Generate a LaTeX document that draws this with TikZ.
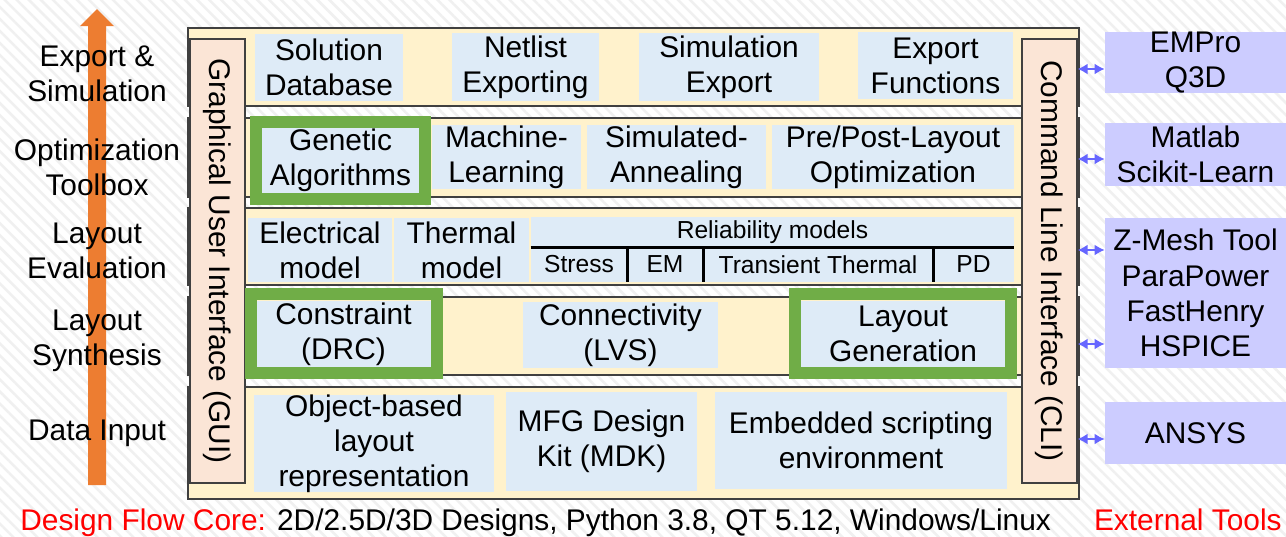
\documentclass[tikz,border=0pt]{standalone}
\usepackage{fontspec}
\setmainfont{Liberation Sans}
\usetikzlibrary{positioning, fit, arrows.meta, patterns.meta}

\definecolor{cream}{HTML}{FFF2CC}
\definecolor{paleblue}{HTML}{DEEBF7}
\definecolor{peach}{HTML}{FBE5D6}
\definecolor{leafgreen}{HTML}{70AD47}
\definecolor{lilac}{HTML}{CCCCFF}
\definecolor{linkblue}{HTML}{6666FF}
\definecolor{flow}{HTML}{ED7D31}
\definecolor{edge}{HTML}{404040}

\tikzset{
    layer/.style={draw=edge, line width=0.3mm, fill=cream, inner sep=0pt},
    blk/.style={fill=paleblue, inner sep=0pt, label={[align=center]center:#1}},
    small/.style={font=\fontsize{14}{16}\selectfont},
    sblk/.style={fill=paleblue, inner sep=0pt, label={[small]center:#1}},
    bar/.style={draw=edge, line width=0.25mm, fill=peach, inner sep=0pt},
    pick/.style={draw=leafgreen, line width=2.4mm, inner sep=0pt},
    tool/.style={fill=lilac, inner sep=0pt, label={[align=center]center:#1}},
    lvl/.style={align=center},
    link/.style={{Latex[length=2mm,width=2.2mm]}-{Latex[length=2mm,width=2.2mm]}, linkblue, line width=0.5mm},
    cut/.style={line width=0.6mm, black},
}

\begin{document}
\begin{tikzpicture}[x=0.2mm, y=-0.2mm, every node/.style={font=\fontsize{17}{20}\selectfont}]
    \useasboundingbox (0,0) rectangle (1286,536);
    \fill[white] (0,0) rectangle (1286,536);
    \fill[pattern={Lines[angle=-45, distance=1.7mm, line width=0.5mm]}, pattern color=black!6] (0,0) rectangle (1286,536);

    % design flow arrow
    \fill[flow] (88,485) -- (88,26) -- (80,26) -- (97,9) -- (114,26) -- (106,26) -- (106,485) -- cycle;
    \node[lvl] (lexp) at (97,74) {Export \&\\Simulation};
    \node[lvl] (lopt) at (97,167) {Optimization\\Toolbox};
    \node[lvl] (leva) at (97,251) {Layout\\Evaluation};
    \node[lvl] (lsyn) at (97,341) {Layout\\Synthesis};
    \node[lvl] (ldat) at (97,433) {Data Input};

    % core layers
    \node[layer, fit={(188,28)(1079,106)}] (rexp) {};
    \node[layer, fit={(188,118)(1079,197)}] (ropt) {};
    \node[layer, fit={(188,208)(1079,285)}] (reva) {};
    \node[layer, fit={(188,297)(1079,375)}] (rsyn) {};
    \node[layer, fit={(188,387)(1079,499)}] (rdat) {};

    \node[bar, fit={(190,39)(245,483)}] (gui) {};
    \node[rotate=-90] (guitxt) at (gui.center) {Graphical User Interface (GUI)};
    \node[bar, fit={(1022,39)(1077,483)}] (cli) {};
    \node[rotate=-90] (clitxt) at (cli.center) {Command Line Interface (CLI)};

    \node[blk={Solution\\Database}, fit={(255,34)(403,101)}] (soldb) {};
    \node[blk={Netlist\\Exporting}, fit={(452,33)(599,101)}] (netlist) {};
    \node[blk={Simulation\\Export}, fit={(639,33)(819,101)}] (simexp) {};
    \node[blk={Export\\Functions}, fit={(858,32)(1013,99)}] (expfn) {};

    \node[blk={Genetic\\Algorithms}, fit={(262,127)(419,193)}] (genetic) {};
    \node[pick, fit={(256,122)(425,199)}] (geneticsel) {};
    \node[blk={Machine-\\Learning}, fit={(432,125)(581,189)}] (ml) {};
    \node[blk={Simulated-\\Annealing}, fit={(587,125)(766,189)}] (sa) {};
    \node[blk={Pre/Post-Layout\\Optimization}, fit={(772,125)(1014,189)}] (prepost) {};

    \node[blk={Electrical\\model}, fit={(248,218)(392,282)}] (elec) {};
    \node[blk={Thermal\\model}, fit={(394,218)(529,282)}] (therm) {};
    \node[sblk={Reliability models}, fit={(531,217)(1014,247)}] (rel) {};
    \node[sblk={Stress}, fit={(531,247)(627,282)}] (stress) {};
    \node[sblk={EM}, fit={(627,247)(703,282)}] (em) {};
    \node[sblk={Transient Thermal}, fit={(703,247)(933,282)}] (trans) {};
    \node[sblk={PD}, fit={(933,247)(1014,282)}] (pd) {};
    \draw[cut] (rel.south west) -- (rel.south east);
    \foreach \c in {stress, em, trans}
        \draw[cut] (\c.north east) -- (\c.south east);

    \node[blk={Constraint\\(DRC)}, fit={(256,301)(431,367)}] (drc) {};
    \node[pick, fit={(251,294)(437,373)}] (drcsel) {};
    \node[blk={Connectivity\\(LVS)}, fit={(523,302)(718,368)}] (lvs) {};
    \node[blk={Layout\\Generation}, fit={(801,301)(1005,367)}] (laygen) {};
    \node[pick, fit={(795,294)(1011,373)}] (laygensel) {};

    \node[blk={Object-based\\layout\\representation}, fit={(254,395)(494,492)}] (objrep) {};
    \node[blk={MFG Design\\Kit (MDK)}, fit={(506,392)(697,491)}] (mdk) {};
    \node[blk={Embedded scripting\\environment}, fit={(715,392)(1007,489)}] (script) {};

    % external tools
    \node[tool={EMPro\\Q3D}, fit={(1105,32)(1286,93)}] (empro) {};
    \node[tool={Matlab\\Scikit-Learn}, fit={(1105,123)(1286,186)}] (matlab) {};
    \node[tool={Z-Mesh Tool\\ParaPower\\FastHenry\\HSPICE}, fit={(1105,218)(1286,368)}] (zmesh) {};
    \node[tool={ANSYS}, fit={(1105,402)(1286,464)}] (ansys) {};
    \foreach \t/\y in {empro/69, matlab/159, zmesh/250, zmesh/344, ansys/439}
        \draw[link] (cli.east |- 0,\y) -- (\t.west |- 0,\y);

    \node[anchor=base west, inner sep=0pt] (core) at (20,530) {\textcolor{red}{Design Flow Core:} 2D/2.5D/3D Designs, Python 3.8, QT 5.12, Windows/Linux};
    \node[anchor=base east, inner sep=0pt, text=red] (ext) at (1282,530) {External Tools};
\end{tikzpicture}
\end{document}
